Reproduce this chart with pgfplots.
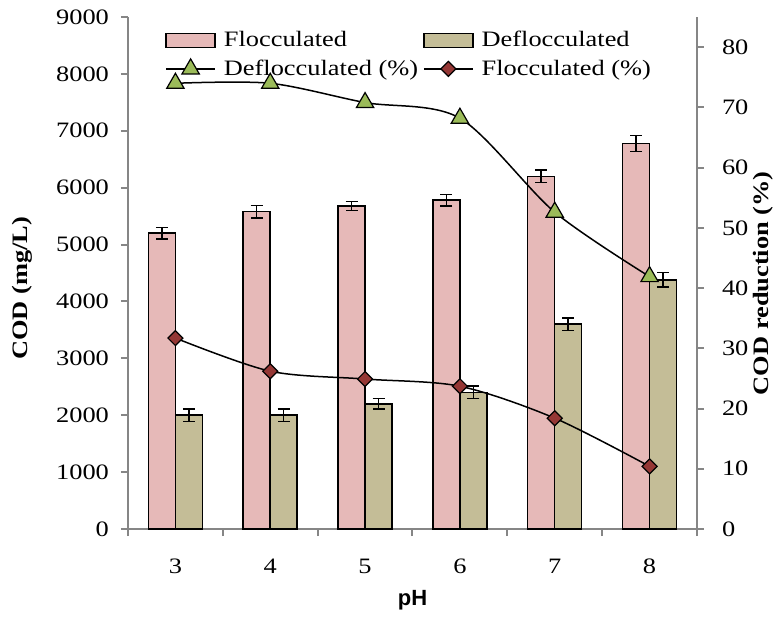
\documentclass[border=0pt]{standalone}
\usepackage{fontspec}
\setmainfont{Liberation Serif}[FakeStretch=1.2]
\newfontfamily\arialfont{Liberation Sans}
\usepackage{pgfplots}
\pgfplotsset{compat=1.18}
\definecolor{floc}{HTML}{E6B9B8}
\definecolor{defloc}{HTML}{C4BD97}
\definecolor{tri}{HTML}{9BBB59}
\definecolor{dia}{HTML}{953735}
\definecolor{axgray}{HTML}{868686}
\pgfplotsset{
  common/.style={
    at={(0,0)}, anchor=south west,
    scale only axis, width=284.5pt, height=256pt,
    xmin=2.5, xmax=8.5,
    axis line style={axgray, line width=1pt},
    tick align=outside,
    major tick length=3.5pt, minor tick length=3.5pt,
    every tick/.style={axgray, line width=1pt},
    /pgf/number format/assume math mode=true,
    /pgf/number format/1000 sep={},
    scaled ticks=false,
    tick label style={font=\fontsize{11}{13}\selectfont},
    label style={font=\fontsize{11}{13}\selectfont\bfseries},
  }
}
\begin{document}
\begin{tikzpicture}
\path[use as bounding box] (-64pt,-44.5pt) rectangle (325pt,264.5pt);
\begin{axis}[
  common,
  ybar=0pt, bar width=13.5pt,
  ymin=0, ymax=9000,
  axis y line*=left, axis x line*=bottom,
  xtick={3,...,8}, minor xtick={2.5,3.5,...,8.5},
  major x tick style={draw=none},
  ytick={0,1000,...,9000},
  xticklabel style={yshift=-8pt},
  yticklabel style={xshift=-2.5pt},
  ylabel={COD (mg/L)},
  ylabel style={at={(axis description cs:-0.186,0.47)}, anchor=center},
  xlabel={\arialfont\bfseries pH},
  xlabel style={at={(axis description cs:0.5,-0.139)}, anchor=center},
]
\addplot[fill=floc, draw=black, line width=0.75pt,
  error bars/.cd, y dir=both, y explicit,
  error bar style={black, line width=0.75pt},
  error mark options={rotate=90, mark size=3pt, black, line width=0.75pt}]
  table[x=x, y=y, y error=e] {
x y e
3 5200 100
4 5580 110
5 5680 80
6 5780 100
7 6200 110
8 6780 140
};
\addplot[fill=defloc, draw=black, line width=0.75pt,
  error bars/.cd, y dir=both, y explicit,
  error bar style={black, line width=0.75pt},
  error mark options={rotate=90, mark size=3pt, black, line width=0.75pt}]
  table[x=x, y=y, y error=e] {
x y e
3 2000 110
4 2000 110
5 2200 90
6 2400 110
7 3600 110
8 4380 130
};
\end{axis}
\begin{axis}[
  common,
  ymin=0, ymax=85,
  axis y line*=right, axis x line=none,
  ytick={0,10,...,80},
  yticklabel style={xshift=5.5pt},
  ylabel={COD reduction (\%)},
  ylabel style={at={(axis description cs:1.116,0.48)}, anchor=center},
  legend columns=2,
  legend cell align=left,
  legend style={
    at={(axis description cs:0.065,0.979)}, anchor=north west,
    draw=none, fill=none, inner sep=0pt,
    font=\fontsize{11}{13}\selectfont,
    nodes={inner sep=1.5pt},
    row sep=2pt,
    /tikz/every even column/.append style={column sep=1pt},
  },
]
\addlegendimage{legend image code/.code={\draw[fill=floc, draw=black, line width=0.75pt] (0pt,-3.5pt) rectangle (24.5pt,3.5pt); \path (27pt,0pt);}}
\addlegendentry{Flocculated}
\addlegendimage{legend image code/.code={\draw[fill=defloc, draw=black, line width=0.75pt] (0pt,-3.5pt) rectangle (24.5pt,3.5pt); \path (27pt,0pt);}}
\addlegendentry{Deflocculated}
\addplot[smooth, black, line width=0.75pt, mark=triangle*, mark size=5pt,
  mark options={fill=tri, draw=black, line width=0.6pt},
  legend image code/.code={\draw[black, line width=0.75pt] (0pt,0pt) -- (24.5pt,0pt);
    \draw[fill=tri, draw=black, line width=0.6pt] plot[mark=triangle*, mark size=5pt] coordinates {(12.25pt,0pt)}; \path (27pt,0pt);}]
  coordinates {(3,74) (4,74) (5,70.8) (6,68.2) (7,52.6) (8,41.9)};
\addlegendentry{Deflocculated (\%)}
\addplot[smooth, black, line width=0.75pt, mark=square*, mark size=2.65pt,
  mark options={rotate=45, fill=dia, draw=black, line width=0.6pt},
  legend image code/.code={\draw[black, line width=0.75pt] (0pt,0pt) -- (24.5pt,0pt);
    \draw[fill=dia, draw=black, line width=0.6pt] plot[mark=square*, mark size=2.65pt, mark options={rotate=45}] coordinates {(12.25pt,0pt)}; \path (27pt,0pt);}]
  coordinates {(3,31.7) (4,26.2) (5,24.9) (6,23.7) (7,18.4) (8,10.4)};
\addlegendentry{Flocculated (\%)}
\end{axis}
\end{tikzpicture}
\end{document}
